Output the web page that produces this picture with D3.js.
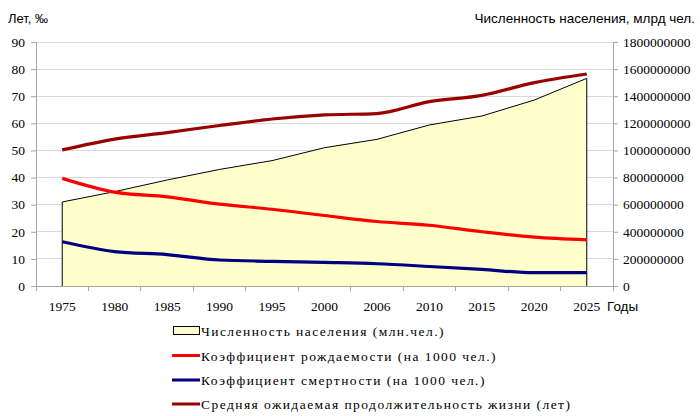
<!DOCTYPE html>
<html><head><meta charset="utf-8">
<script src="https://cdn.jsdelivr.net/npm/d3@7/dist/d3.min.js"></script>
<style>
body{margin:0;background:#fff;}
svg{display:block;}
.sans{font-family:"Liberation Sans",Arial,sans-serif;}
</style></head>
<body>
<svg id="chart" width="700" height="416"></svg>
<script>
const years = ["1975","1980","1985","1990","1995","2000","2006","2010","2015","2020","2025"];
const population = [620e6, 696e6, 782e6, 860e6, 925e6, 1020e6, 1082e6, 1188e6, 1254e6, 1372e6, 1532e6];
const birthRate = [39.7, 34.6, 32.9, 30.2, 28.3, 26.0, 23.8, 22.4, 20.0, 18.0, 17.0];
const deathRate = [16.3, 12.7, 11.6, 9.6, 9.1, 8.7, 8.2, 7.2, 6.1, 4.9, 4.9];
const lifeExp = [50.2, 54.2, 56.6, 59.2, 61.6, 63.1, 63.6, 68.0, 70.3, 75.0, 78.2];
const leftTicks = [0,10,20,30,40,50,60,70,80,90];
const rightTicks = [0,2e8,4e8,6e8,8e8,10e8,12e8,14e8,16e8,18e8];
const legendLabels = [
  "Численность населения (млн.чел.)",
  "Коэффициент рождаемости (на 1000  чел.)",
  "Коэффициент смертности (на 1000 чел.)",
  "Средняя ожидаемая продолжительность жизни (лет)"
];

const SERIF = "'Liberation Serif','Times New Roman',serif";
const svg = d3.select("#chart");
const L = 36, R = 613, T = 42, B = 286;
const x = d3.scaleBand().domain(years).range([L, R]).paddingInner(0).paddingOuter(0);
const cx = d => x(d) + x.bandwidth()/2;
const yL = d3.scaleLinear().domain([0,90]).range([B, T]);
const yR = d3.scaleLinear().domain([0,1.8e9]).range([B, T]);

const axisCol = "#a6a6a6";

svg.append("g").selectAll("line").data(leftTicks.filter(d=>d>0)).join("line")
  .attr("x1", L).attr("x2", R).attr("y1", d=>yL(d)).attr("y2", d=>yL(d))
  .attr("stroke", "#d9d9d9").attr("stroke-width", 1).attr("shape-rendering","crispEdges");

const area = d3.area().x((d,i)=>cx(years[i])).y0(B).y1(d=>yR(d));
const popLine = d3.line().x((d,i)=>cx(years[i])).y(d=>yR(d));
svg.append("path").datum(population).attr("d", area).attr("fill", "#ffffcc").attr("stroke","none");
svg.append("path").datum(population)
  .attr("d", "M" + cx(years[0]) + "," + B + "L" + popLine(population).slice(1) + "L" + cx(years[years.length-1]) + "," + B)
  .attr("fill","none").attr("stroke","#000").attr("stroke-width",1);

const axL = svg.append("g").attr("transform", `translate(${L},0)`)
  .call(d3.axisLeft(yL).tickValues(leftTicks).tickSize(5).tickFormat(d3.format("d")));
const axR = svg.append("g").attr("transform", `translate(${R},0)`)
  .call(d3.axisRight(yR).tickValues(rightTicks).tickSize(5).tickFormat(d3.format("d")));
const axB = svg.append("g").attr("transform", `translate(0,${B})`)
  .call(d3.axisBottom(x).tickSize(0).tickPadding(15));
[axL, axR, axB].forEach(a=>{
  a.attr("font-family", SERIF).attr("font-size", 13.5);
  a.select(".domain").attr("stroke", axisCol);
  a.selectAll(".tick line").attr("stroke", axisCol);
  a.selectAll("text").attr("fill","#000");
});
axL.selectAll("text").attr("x", -11);
axR.selectAll("text").attr("x", 10);
const bounds = years.map(d=>x(d)).concat([R]);
svg.append("g").selectAll("line").data(bounds).join("line")
  .attr("x1", d=>d).attr("x2", d=>d).attr("y1", B).attr("y2", B+5)
  .attr("stroke", axisCol).attr("shape-rendering","crispEdges");

const mkLine = d3.line().x((d,i)=>cx(years[i])).y(d=>yL(d)).curve(d3.curveMonotoneX);
const series = [
  {v: birthRate, c: "#ff0000"},
  {v: deathRate, c: "#000080"},
  {v: lifeExp, c: "#990000"}
];
series.forEach(s=>{
  svg.append("path").datum(s.v).attr("d", mkLine).attr("fill","none")
    .attr("stroke", s.c).attr("stroke-width", 3.2).attr("stroke-linecap","butt");
});

svg.append("text").attr("class","sans").attr("x", 8).attr("y", 23).text("Лет, ‰")
  .style("font-size","13px");
svg.append("text").attr("class","sans").attr("x", 695).attr("y", 23).attr("text-anchor","end")
  .text("Численность населения, млрд чел.")
  .style("font-size","13.5px");
svg.append("text").attr("class","sans").attr("x", 607).attr("y", 311).text("Годы")
  .style("font-size","13.5px");

const lg = svg.append("g").attr("font-family", SERIF);
const rowsY = [331, 355.5, 380, 404];
const colors = [null, "#ff0000", "#000080", "#990000"];
legendLabels.forEach((t,i)=>{
  const yy = rowsY[i];
  if (i===0) {
    lg.append("rect").attr("x",173.5).attr("y",yy-4.5).attr("width",26).attr("height",8)
      .attr("fill","#ffffcc").attr("stroke","#000").attr("stroke-width",1);
  } else {
    lg.append("line").attr("x1",172).attr("x2",200).attr("y1",yy).attr("y2",yy)
      .attr("stroke",colors[i]).attr("stroke-width",3);
  }
  lg.append("text").attr("x",201).attr("y",yy+5).text(t)
    .attr("font-size", 13.5).attr("letter-spacing","1.45px");
});
</script>
</body></html>
